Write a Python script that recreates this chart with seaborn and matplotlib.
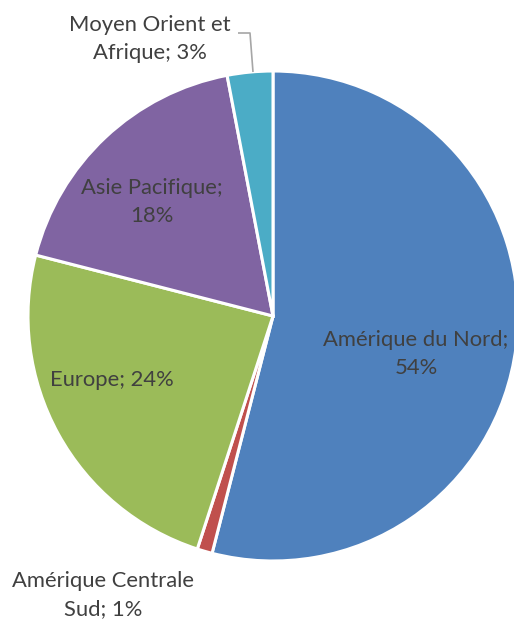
import matplotlib
matplotlib.use("Agg")
import matplotlib.pyplot as plt
import seaborn as sns

categories = ["Amérique du Nord", "Amérique Centrale Sud", "Europe", "Asie Pacifique", "Moyen Orient et Afrique"]
values = [54, 1, 24, 18, 3]
labels = ["Amérique du Nord;\n54%", "Amérique Centrale\nSud; 1%", "Europe; 24%", "Asie Pacifique;\n18%", "Moyen Orient et\nAfrique; 3%"]
colors = ["#4F81BD", "#C0504D", "#9BBB59", "#8064A2", "#4BACC6"]

sns.set_theme(style="white")
plt.rcParams["font.family"] = ["Lato", "DejaVu Sans"]

W, H = 514, 619
cx, cy, R = 273, 316, 245
fig = plt.figure(figsize=(W / 100, H / 100), dpi=100)
ax = fig.add_axes([0, 0, 1, 1])
ax.pie(values, colors=colors, startangle=90, counterclock=False, radius=1,
       wedgeprops=dict(edgecolor="white", linewidth=2.2))
ax.set_xlim(-cx / R, (W - cx) / R)
ax.set_ylim(-(H - cy) / R, cy / R)
ax.set_aspect("equal")
ax.axis("off")

# label layout (pixel positions of label centres)
label_px = [(416, 354), (103, 595), (112, 380), (152, 202), (150, 39)]
for lab, (px, py) in zip(labels, label_px):
    ax.text((px - cx) / R, (cy - py) / R, lab, ha="center", va="center",
            fontsize=15.8, color="#404040", linespacing=1.45)

# leader line for small slice
pts = [(238, 33), (250, 33), (253, 72)]
ax.plot([(p[0] - cx) / R for p in pts], [(cy - p[1]) / R for p in pts],
        color="#A6A6A6", lw=1.2, solid_capstyle="butt")

fig.savefig("out.png", dpi=100)
